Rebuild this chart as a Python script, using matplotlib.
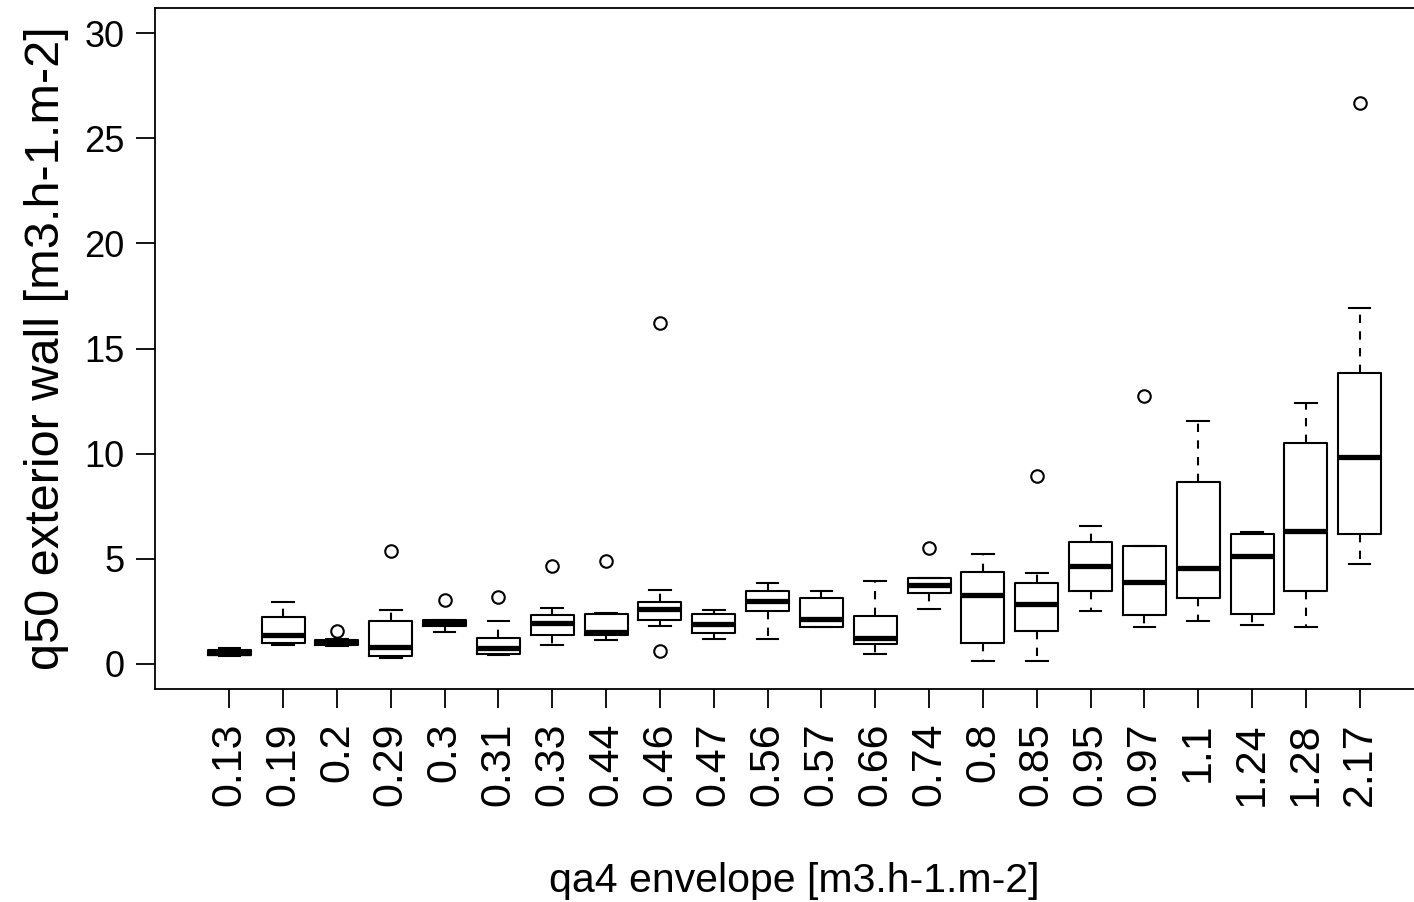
import numpy as np
import matplotlib
matplotlib.use("Agg")
import matplotlib.pyplot as plt

plt.rcParams['font.family'] = ['Liberation Sans', 'DejaVu Sans']

# === Data (box stats per category) ===
categories = ['0.13', '0.19', '0.2', '0.29', '0.3', '0.31', '0.33', '0.44',
              '0.46', '0.47', '0.56', '0.57', '0.66', '0.74', '0.8', '0.85',
              '0.95', '0.97', '1.1', '1.24', '1.28', '2.17']
whis_lo = [0.38, 0.90, 0.86, 0.27, 1.51, 0.43, 0.90, 1.13, 1.82, 1.19, 1.19,
           1.77, 0.48, 2.62, 0.11, 0.14, 2.49, 1.76, 2.03, 1.86, 1.76, 4.75]
q1 = [0.42, 1.01, 0.90, 0.38, 1.79, 0.48, 1.35, 1.35, 2.08, 1.46, 2.49,
      1.77, 0.95, 3.39, 0.98, 1.57, 3.46, 2.34, 3.15, 2.38, 3.45, 6.17]
medians = [0.52, 1.38, 1.03, 0.79, 1.93, 0.76, 1.93, 1.51, 2.62, 1.90, 3.01,
           2.14, 1.22, 3.77, 3.28, 2.85, 4.65, 3.91, 4.56, 5.13, 6.32, 9.83]
q3 = [0.64, 2.22, 1.14, 2.03, 2.06, 1.22, 2.33, 2.38, 2.95, 2.36, 3.46,
      3.14, 2.25, 4.09, 4.36, 3.85, 5.80, 5.62, 8.63, 6.17, 10.52, 13.83]
whis_hi = [0.76, 2.95, 1.16, 2.58, 2.06, 2.03, 2.66, 2.42, 3.52, 2.58, 3.82,
           3.44, 3.93, 4.09, 5.20, 4.34, 6.55, 5.62, 11.54, 6.26, 12.42, 16.94]
outliers = [[], [], [1.55], [5.36], [3.03], [3.20], [4.67], [4.91],
            [16.2, 0.63], [], [], [], [], [5.52], [], [8.92],
            [], [12.74], [], [], [], [26.67]]

stats = []
for i, lab in enumerate(categories):
    stats.append({
        'label': lab,
        'whislo': whis_lo[i], 'q1': q1[i], 'med': medians[i],
        'q3': q3[i], 'whishi': whis_hi[i], 'fliers': outliers[i],
    })

# === Figure ===
fig = plt.figure(figsize=(14.14, 9.02), dpi=100)
ax = fig.add_axes([155 / 1414, 1 - 689 / 902, 1279 / 1414, 681 / 902])

ax.bxp(
    stats,
    positions=np.arange(1, len(categories) + 1),
    widths=0.8,
    showfliers=True,
    boxprops=dict(color='black', linewidth=1.5),
    medianprops=dict(color='black', linewidth=3.8, solid_capstyle='butt'),
    whiskerprops=dict(color='black', linewidth=1.5, linestyle=(0, (4, 4))),
    capprops=dict(color='black', linewidth=1.5),
    capwidths=0.4,
    flierprops=dict(marker='o', markerfacecolor='none', markeredgecolor='black',
                    markersize=9, markeredgewidth=1.5),
)

ax.set_xlim(-0.38, len(categories) + 1.38)
ax.set_ylim(-1.2, 31.2)
ax.set_yticks([0, 5, 10, 15, 20, 25, 30])
ax.set_xticks(np.arange(1, len(categories) + 1))
ax.set_xticklabels(categories, rotation=90)

ax.tick_params(axis='both', direction='out', length=14, width=1.3)
ax.tick_params(axis='x', labelsize=31, pad=10)
ax.tick_params(axis='y', labelsize=26, pad=8)
for s in ax.spines.values():
    s.set_linewidth(1.3)

ax.set_xlabel("qa4 envelope [m3.h-1.m-2]", fontsize=29.5, labelpad=40)
ax.set_ylabel("q50 exterior wall [m3.h-1.m-2]", fontsize=35, labelpad=11)

fig.savefig("out.png", dpi=100)
